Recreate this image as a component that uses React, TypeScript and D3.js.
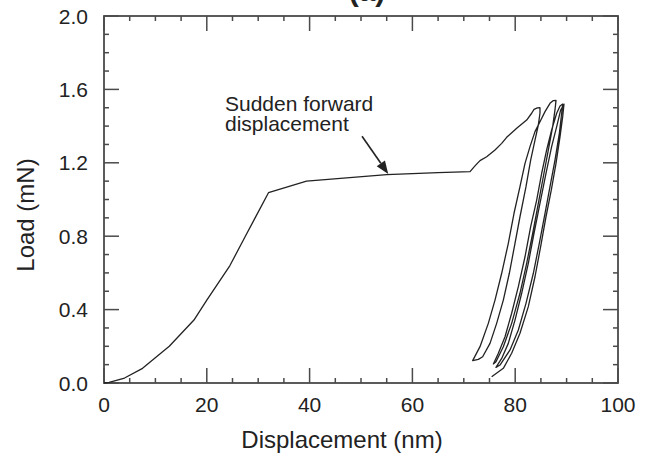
import React from "react";
import * as d3 from "d3";

const xTicks = [0, 20, 40, 60, 80, 100];
const yTicks = [0.0, 0.4, 0.8, 1.2, 1.6, 2.0];

// initial loading curve (nm, mN)
const loading: [number, number][] = [
  [0, 0], [1, 0.003], [4, 0.027], [7.5, 0.08], [12.7, 0.2], [17.5, 0.343], [20, 0.452],
  [24.5, 0.64], [27.5, 0.8], [29.4, 0.9], [32, 1.037], [39.4, 1.1], [55, 1.136],
  [65, 1.146], [71.21, 1.152], [72.18, 1.183], [73.15, 1.212], [74.45, 1.233],
  [76.07, 1.27], [77.37, 1.306], [78.34, 1.339], [80.29, 1.388], [82.23, 1.433],
  [83.2, 1.47], [83.66, 1.491], [84.31, 1.499], [84.82, 1.5],
];
const unload1: [number, number][] = [
  [84.82, 1.5], [84.82, 1.47], [84.5, 1.406], [83.85, 1.324], [83.01, 1.215], [82.1, 1.07],
  [80.93, 0.906], [79.96, 0.761], [78.86, 0.598], [77.69, 0.452], [76.39, 0.325],
  [75.1, 0.216], [73.67, 0.143], [72.83, 0.129], [71.73, 0.122],
];
const reload1: [number, number][] = [
  [71.73, 0.122], [73.15, 0.198], [74.77, 0.325], [76.07, 0.452], [77.37, 0.598],
  [78.66, 0.761], [79.77, 0.925], [80.93, 1.07], [81.91, 1.197], [82.88, 1.288],
  [83.85, 1.37], [84.82, 1.424], [85.8, 1.479], [86.77, 1.524], [87.42, 1.539], [87.94, 1.54],
];
const unload2: [number, number][] = [
  [87.94, 1.54], [87.74, 1.488], [87.29, 1.397], [86.45, 1.27], [85.47, 1.124], [84.5, 0.979],
  [83.4, 0.816], [82.23, 0.652], [80.93, 0.489], [79.31, 0.325], [77.69, 0.198],
  [76.26, 0.116], [75.75, 0.104],
];
const reload2: [number, number][] = [
  [75.75, 0.104], [76.72, 0.162], [78.02, 0.252], [79.31, 0.38], [80.61, 0.525], [81.91, 0.688],
  [83.01, 0.852], [84.18, 0.997], [85.15, 1.143], [86.12, 1.27], [87.09, 1.379],
  [88.07, 1.47], [88.72, 1.51], [89.24, 1.52],
];
const unload3: [number, number][] = [
  [89.24, 1.52], [89.04, 1.47], [88.59, 1.361], [87.74, 1.215], [86.77, 1.07], [85.8, 0.925],
  [84.69, 0.761], [83.53, 0.598], [82.1, 0.434], [80.61, 0.289], [78.99, 0.18],
  [77.04, 0.098], [76.26, 0.085],
];
const reload3: [number, number][] = [
  [76.26, 0.085], [77.37, 0.134], [78.66, 0.216], [79.96, 0.343], [81.26, 0.489], [82.55, 0.652],
  [83.66, 0.816], [84.82, 0.979], [85.99, 1.143], [87.09, 1.288], [88.07, 1.397],
  [88.85, 1.488], [89.49, 1.52],
];
const unload4: [number, number][] = [
  [89.49, 1.52], [89.24, 1.451], [88.72, 1.342], [87.94, 1.197], [87.03, 1.052], [85.99, 0.906],
  [84.95, 0.743], [83.85, 0.579], [82.55, 0.416], [80.93, 0.271], [79.31, 0.162],
  [77.69, 0.08], [75.42, 0.034],
];

const segments = [loading, unload1, reload1, unload2, reload2, unload3, reload3, unload4];

const annotationLines = ["Sudden forward", "displacement"];
const annotationArrow: [number, number][] = [[50.2, 1.345], [55.3, 1.139]];

const FONT = "'Liberation Sans', Arial, sans-serif";

export default function App() {
  const W = 647, H = 454;
  const x = d3.scaleLinear().domain([0, 100]).range([104, 618]);
  const y = d3.scaleLinear().domain([0, 2]).range([383, 16]);
  const line = d3.line<[number, number]>().x((d) => x(d[0])).y((d) => y(d[1]));
  const allPts = segments.flat();
  const path = line(allPts) || "";

  const frame = "#4a4a4a";
  const xMinor = d3.range(0, 100.01, 5);
  const yMinor = d3.range(0, 2.001, 0.1);
  const MAJ = 15, MIN = 5;

  const [a0, a1] = annotationArrow;
  const ax0 = x(a0[0]), ay0 = y(a0[1]), ax1 = x(a1[0]), ay1 = y(a1[1]);
  const ang = Math.atan2(ay1 - ay0, ax1 - ax0);
  const hl = 13, hw = 5;
  const bx = ax1 - hl * Math.cos(ang), by = ay1 - hl * Math.sin(ang);
  const head = `M${ax1},${ay1} L${bx + hw * Math.sin(ang)},${by - hw * Math.cos(ang)} L${bx - hw * Math.sin(ang)},${by + hw * Math.cos(ang)} Z`;

  return (
    <svg width={W} height={H} style={{ position: "absolute", left: 0, top: 0, background: "#fff" }} fontFamily={FONT}>
      <rect x={0} y={0} width={W} height={H} fill="#fff" />
      <text x={367} y={1} textAnchor="middle" fontSize={30} fontWeight="bold" fill="#222">(a)</text>
      {/* ticks */}
      <g stroke={frame} strokeWidth={1.5}>
        {xMinor.map((v, i) => {
          const len = Math.abs(v % 20) < 1e-6 ? MAJ : MIN;
          return (
            <g key={"xt" + i}>
              <line x1={x(v)} x2={x(v)} y1={y(0)} y2={y(0) - len} />
              <line x1={x(v)} x2={x(v)} y1={y(2)} y2={y(2) + len} />
            </g>
          );
        })}
        {yMinor.map((v, i) => {
          const len = i % 4 === 0 ? MAJ : MIN;
          return (
            <g key={"yt" + i}>
              <line x1={x(0)} x2={x(0) + len} y1={y(v)} y2={y(v)} />
              <line x1={x(100)} x2={x(100) - len} y1={y(v)} y2={y(v)} />
            </g>
          );
        })}
      </g>
      <rect x={x(0)} y={y(2)} width={x(100) - x(0)} height={y(0) - y(2)} fill="none" stroke={frame} strokeWidth={1.8} />
      {/* tick labels */}
      {xTicks.map((v) => (
        <text key={"xl" + v} x={x(v)} y={412} textAnchor="middle" fontSize={21} fill="#222">{v}</text>
      ))}
      {yTicks.map((v) => (
        <text key={"yl" + v} x={88} y={y(v) + 7.5} textAnchor="end" fontSize={21} fill="#222">{v.toFixed(1)}</text>
      ))}
      <text x={342} y={448} textAnchor="middle" fontSize={24} fill="#222">Displacement (nm)</text>
      <text transform={`translate(34,215) rotate(-90)`} textAnchor="middle" fontSize={24} fill="#222">Load (mN)</text>
      {/* curve */}
      <path d={path} fill="none" stroke="#222" strokeWidth={1.3} strokeLinejoin="round" />
      {/* annotation */}
      {annotationLines.map((t, i) => (
        <text key={"an" + i} x={225} y={111 + i * 20} fontSize={21} fill="#222">{t}</text>
      ))}
      <line x1={ax0} y1={ay0} x2={bx} y2={by} stroke="#222" strokeWidth={1.6} />
      <path d={head} fill="#222" />
    </svg>
  );
}
